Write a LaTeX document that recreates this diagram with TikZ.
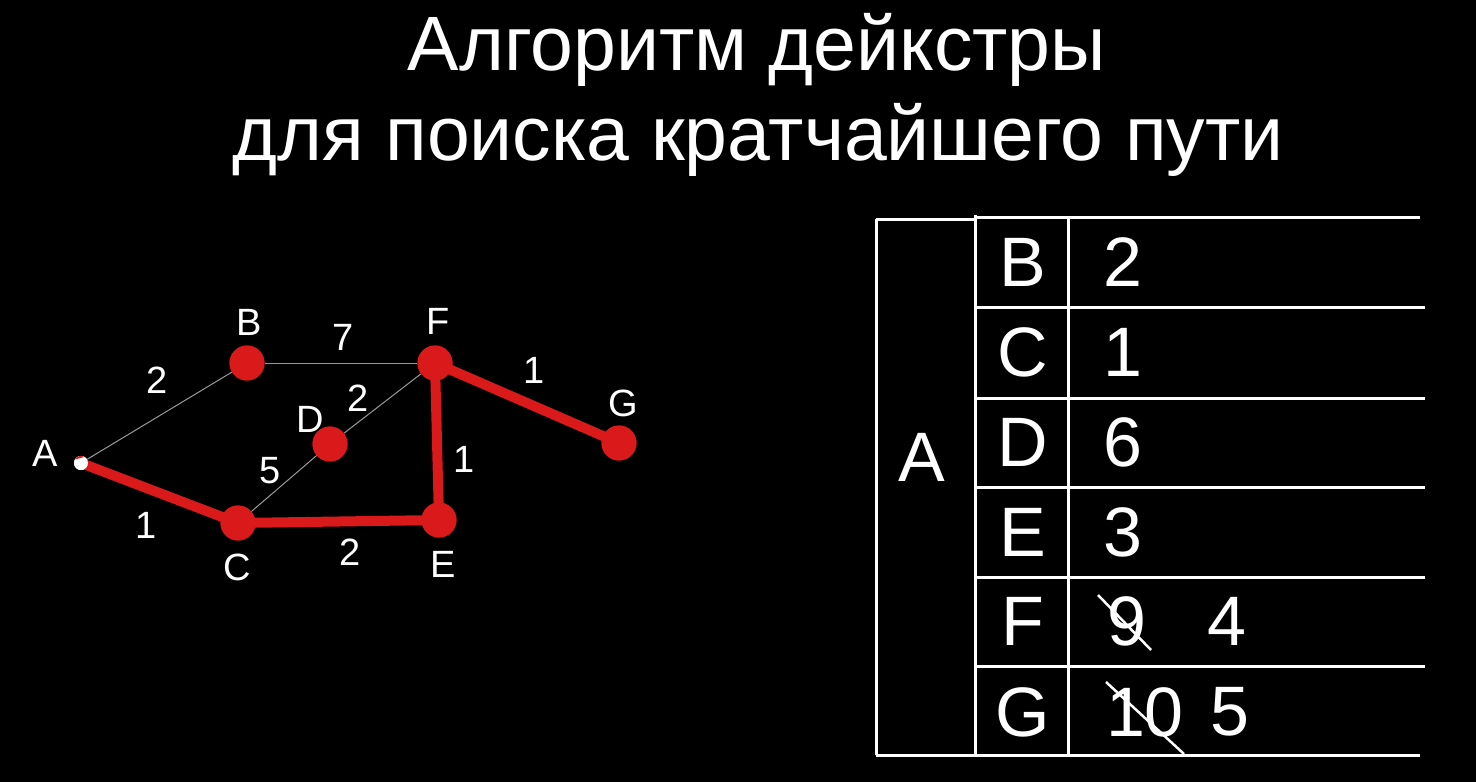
\documentclass[tikz,border=0pt]{standalone}
\usepackage{fontspec}
\setmainfont{Liberation Sans}
\begin{document}
\begin{tikzpicture}[x=1pt,y=-1pt,
  vtx/.style={circle,fill=nodered,draw=none,minimum size=35pt,inner sep=0pt},
  lbl/.style={text=white,font=\fontsize{38}{38}\selectfont,inner sep=0pt},
  tlbl/.style={text=white,font=\fontsize{70}{70}\selectfont,inner sep=0pt},
  title/.style={text=white,font=\fontsize{77}{77}\selectfont,anchor=base,inner sep=0pt},
  thin edge/.style={draw=gray!80,line width=1pt},
  path edge/.style={draw=nodered,line width=10pt},
  grid line/.style={draw=white,line width=3pt},
  strike/.style={draw=white,line width=2.5pt}]
\definecolor{nodered}{RGB}{218,26,26}
\fill[black] (0,0) rectangle (1476,782);
\useasboundingbox (0,0) rectangle (1476,782);
% title
\node[title] (t1) at (757,70) {Алгоритм дейкстры};
\node[title] (t2) at (758,160) {для поиска кратчайшего пути};
% graph vertices
\node[vtx] (B) at (247,363) {};
\node[vtx] (F) at (435,363) {};
\node[vtx] (D) at (330,444) {};
\node[vtx] (C) at (238,523) {};
\node[vtx] (E) at (439,520) {};
\node[vtx] (G) at (619,443) {};
\node[circle,fill=white,minimum size=14pt,inner sep=0pt] (A) at (81,463) {};
% thin edges
\draw[thin edge] (A) -- (B);
\draw[thin edge] (B) -- (F);
\draw[thin edge] (C) -- (D);
\draw[thin edge] (D) -- (F);
% shortest-path edges
\draw[path edge] (A.center) -- (C.center);
\draw[path edge] (C.center) -- (E.center);
\draw[path edge] (E.center) -- (F.center);
\draw[path edge] (F.center) -- (G.center);
% redraw vertex discs above the edges
\foreach \n in {B,F,D,C,E,G}
  \fill[nodered] (\n.center) circle (17.5);
\fill[white] (A.center) circle (7);
\fill[nodered] (A.center) ++(-60:7) arc (-60:-150:7) -- cycle;
% graph labels
\node[lbl] (lA) at (45,453) {A};
\node[lbl] (lB) at (249,322) {B};
\node[lbl] (lF) at (438,321) {F};
\node[lbl] (lD) at (310,419) {D};
\node[lbl] (lG) at (623,403) {G};
\node[lbl] (lC) at (237,567) {C};
\node[lbl] (lE) at (443,564) {E};
\node[lbl] (w1) at (343,337) {7};
\node[lbl] (w2) at (157,380) {2};
\node[lbl] (w3) at (358,398) {2};
\node[lbl] (w4) at (270,471) {5};
\node[lbl] (w5) at (464,459) {1};
\node[lbl] (w6) at (534,370) {1};
\node[lbl] (w7) at (146,525) {1};
\node[lbl] (w8) at (350,552) {2};
% table
\coordinate (tl) at (876,219);
\coordinate (bl) at (876,755);
\draw[grid line] (876,219) -- (975,219);
\draw[grid line] (tl) -- (bl);
\draw[grid line] (975,215) -- (975,755);
\draw[grid line] (1068,217) -- (1068,757);
\draw[grid line] (975,217) -- (1420,217);
\foreach \y in {307,398,487,577,666}
  \draw[grid line] (975,\y) -- (1425,\y);
\draw[grid line] (bl) -- (1420,755);
\node[tlbl] (TA) at (922,457) {A};
\node[tlbl] (TB) at (1023,262) {B};
\node[tlbl] (TC) at (1023,352) {C};
\node[tlbl] (TD) at (1023,442) {D};
\node[tlbl] (TE) at (1023,532) {E};
\node[tlbl] (TF) at (1023,621) {F};
\node[tlbl] (TG) at (1023,712) {G};
\node[tlbl] (vB) at (1123,262) {2};
\node[tlbl] (vC) at (1123,352) {1};
\node[tlbl] (vD) at (1123,442) {6};
\node[tlbl] (vE) at (1123,532) {3};
\node[tlbl] (vF) at (1127,621) {9};
\node[tlbl] (vF2) at (1227,621) {4};
\node[tlbl] (vG) at (1145,712) {10};
\node[tlbl] (vG2) at (1230,712) {5};
\draw[strike] (1098,595) -- (1151,650);
\draw[strike] (1106,682) -- (1184,754);
\end{tikzpicture}
\end{document}
